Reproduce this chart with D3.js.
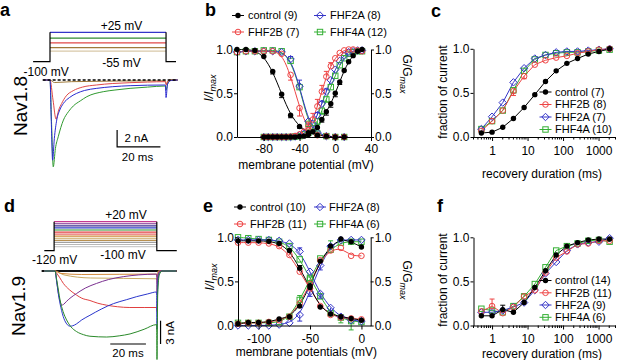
<!DOCTYPE html>
<html>
<head>
<meta charset="utf-8">
<script src="https://cdn.jsdelivr.net/npm/d3@7"></script>
<style>
  body { margin: 0; background: #fff; }
  svg { font-family: "Liberation Sans", Arial, Helvetica, sans-serif; }
</style>
</head>
<body>
<svg id="fig" width="617" height="360"></svg>
<script>
// ---------- data ----------
const groupNames = ['control', 'FHF2B', 'FHF2A', 'FHF4A'];

// panel b : Nav1.8 inactivation (10 mV) and activation (5 mV)
const bInactMV = [-110, -100, -90, -80, -70, -60, -50, -40, -30, -20, -10, 0, 10];
const bInactControl = [1.0, 1.0, 0.99, 0.92, 0.75, 0.49, 0.25, 0.12, 0.05, 0.02, 0.01, 0.0, 0.0];
const bInactFHF2B   = [0.97, 0.98, 0.98, 0.98, 0.98, 0.95, 0.71, 0.33, 0.08, 0.02, 0.01, 0.0, 0.0];
const bInactFHF2A   = [0.97, 0.98, 0.98, 0.98, 0.98, 0.97, 0.89, 0.58, 0.18, 0.05, 0.01, 0.0, 0.0];
const bInactFHF4A   = [0.97, 0.98, 0.98, 0.99, 0.99, 0.98, 0.87, 0.57, 0.15, 0.04, 0.01, 0.0, 0.0];
const bInactErrControl = [0, 0, 0, 0, -0.03, -0.04, -0.03, -0.02, 0, 0, 0, 0, 0];
const bInactErrFHF2B   = [0, 0, 0, 0, 0, 0, -0.06, -0.09, -0.04, 0, 0, 0, 0];
const bInactErrFHF2A   = [0, 0, 0, 0, 0, 0, 0.03, 0.07, 0, 0, 0, 0, 0];
const bInactErrFHF4A   = [0, 0, 0, 0, 0, 0, 0, 0, -0.03, 0, 0, 0, 0];

const bActMV = [-80, -75, -70, -65, -60, -55, -50, -45, -40, -35, -30, -25, -20, -15, -10, -5, 0, 5, 10, 15, 20, 25, 30];
const bActControl = [0, 0, 0, 0, 0, 0, 0, 0, 0.005, 0.01, 0.03, 0.06, 0.11, 0.2, 0.29, 0.38, 0.5, 0.63, 0.76, 0.86, 0.93, 0.98, 1.0];
const bActFHF2B   = [0, 0, 0, 0, 0, 0, 0.005, 0.01, 0.03, 0.06, 0.12, 0.2, 0.35, 0.52, 0.69, 0.81, 0.9, 0.96, 0.99, 1.0, 1.0, 0.99, 0.98];
const bActFHF2A   = [0, 0, 0, 0, 0, 0, 0, 0.005, 0.02, 0.04, 0.08, 0.15, 0.25, 0.38, 0.52, 0.65, 0.77, 0.87, 0.93, 0.97, 0.98, 0.99, 0.99];
const bActFHF4A   = [0, 0, 0, 0, 0, 0, 0, 0.005, 0.01, 0.03, 0.05, 0.1, 0.18, 0.3, 0.43, 0.57, 0.7, 0.82, 0.9, 0.95, 0.97, 0.98, 0.98];
const bActErrControl = [0, 0, 0, 0, 0, 0, 0, 0, 0, 0, 0, 0, 0, -0.03, -0.04, -0.04, -0.04, -0.03, 0, 0, 0, 0, 0];
const bActErrFHF2B   = [0, 0, 0, 0, 0, 0, 0, 0, 0, 0, 0.05, 0.07, 0.08, 0.07, 0.06, 0.04, 0, 0, 0, 0, 0, 0, 0];
const bActErrFHF2A   = [0, 0, 0, 0, 0, 0, 0, 0, 0, 0, 0, 0, 0.03, 0.03, 0.03, 0, 0, 0, 0, 0, 0, 0, 0];
const bActErrFHF4A   = [0, 0, 0, 0, 0, 0, 0, 0, 0, 0, 0, -0.03, -0.04, -0.04, -0.03, 0, 0, 0, 0, 0, 0, 0, 0];
const bCounts = [9, 7, 8, 12];

// panel e : Nav1.9 (10 mV steps)
const eMV = [-120, -110, -100, -90, -80, -70, -60, -50, -40, -30, -20, -10, 0];
const eInactControl = [0.96, 0.96, 0.96, 0.955, 0.93, 0.85, 0.65, 0.43, 0.21, 0.13, 0.10, 0.08, 0.06];
const eInactFHF2B   = [0.94, 0.94, 0.94, 0.93, 0.90, 0.80, 0.61, 0.42, 0.22, 0.12, 0.09, 0.08, 0.07];
const eInactFHF2A   = [0.97, 0.97, 0.97, 0.97, 0.96, 0.93, 0.84, 0.61, 0.36, 0.20, 0.10, 0.06, 0.05];
const eInactFHF4A   = [1.0, 0.99, 0.98, 0.97, 0.95, 0.90, 0.75, 0.54, 0.33, 0.14, 0.09, 0.05, 0.04];
const eInactErrControl = [0, 0, 0, 0, 0, 0, 0.03, 0.03, 0, 0, 0, 0, 0];
const eInactErrFHF2B   = [0, 0, 0, 0, 0, 0.03, 0.04, 0, 0, 0, 0, 0, 0];
const eInactErrFHF2A   = [0, 0, 0, 0, 0, 0, 0.04, 0, -0.05, -0.05, 0, 0, 0];
const eInactErrFHF4A   = [0, 0, 0, 0, 0, 0, 0, 0, 0, 0, -0.06, -0.1, 0];
const eActControl = [0.02, 0.035, 0.035, 0.04, 0.075, 0.10, 0.22, 0.45, 0.73, 0.90, 0.98, 0.95, 0.89];
const eActFHF2B   = [0.02, 0.03, 0.03, 0.04, 0.06, 0.10, 0.25, 0.47, 0.74, 0.85, 0.88, 0.79, 0.79];
const eActFHF2A   = [0.0, 0.0, 0.0, 0.0, 0.01, 0.03, 0.12, 0.38, 0.68, 0.90, 0.97, 0.97, 0.97];
const eActFHF4A   = [0.03, 0.03, 0.03, 0.03, 0.04, 0.10, 0.29, 0.52, 0.76, 0.86, 0.94, 0.95, 0.95];
const eActErrControl = [0, 0, 0, 0, 0, 0, 0, 0, 0, 0, 0, 0, 0];
const eActErrFHF2B   = [0, 0, 0, 0, 0, 0, 0, 0, 0, 0, 0, 0, 0];
const eActErrFHF2A   = [0, 0, 0, 0, 0, 0, -0.07, -0.05, -0.05, 0, 0, 0, 0];
const eActErrFHF4A   = [0, 0, 0, 0, 0, 0, 0.05, 0, 0, 0.1, 0, 0, 0];
const eCounts = [10, 11, 8, 6];

// panels c and f : recovery from inactivation
const recMs = [0.5, 1, 2, 4, 8, 16, 32, 64, 128, 256, 512, 1024, 2048];
const cControl = [0.045, 0.055, 0.11, 0.21, 0.335, 0.48, 0.63, 0.75, 0.835, 0.89, 0.94, 0.97, 1.0];
const cFHF2B   = [0.07, 0.18, 0.30, 0.52, 0.69, 0.82, 0.87, 0.90, 0.92, 0.95, 0.97, 0.99, 1.0];
const cFHF2A   = [0.09, 0.23, 0.39, 0.62, 0.78, 0.89, 0.93, 0.96, 0.97, 0.97, 0.98, 0.99, 1.0];
const cFHF4A   = [0.09, 0.18, 0.30, 0.53, 0.75, 0.88, 0.93, 0.95, 0.96, 0.96, 0.97, 0.98, 0.99];
const cErrFHF2B = [0, 0, 0, -0.05, -0.03, 0, 0, 0, 0, 0, 0, 0, 0];
const cCounts = [7, 8, 7, 10];
const fControl = [0.11, 0.11, 0.18, 0.15, 0.26, 0.43, 0.62, 0.80, 0.90, 0.94, 0.97, 0.98, 0.98];
const fFHF2B   = [0.16, 0.22, 0.14, 0.21, 0.33, 0.40, 0.60, 0.77, 0.84, 0.92, 0.93, 0.96, 0.96];
const fFHF2A   = [0.15, 0.15, 0.17, 0.21, 0.26, 0.40, 0.59, 0.72, 0.85, 0.92, 0.94, 0.95, 0.99];
const fFHF4A   = [0.19, 0.17, 0.15, 0.22, 0.33, 0.47, 0.66, 0.85, 0.90, 0.93, 0.96, 0.97, 0.95];
const fErrFHF2B = [0, 0.08, 0, 0, 0, 0, 0, 0, 0, 0, 0, 0, 0];
const fErrControl = [0, 0, 0.05, 0, 0, 0, 0, 0, 0, 0, 0, 0, 0];
const fErrFHF4A = [0, 0, 0, 0, 0.03, 0, 0, 0, 0, 0, 0, 0, 0];
const fCounts = [14, 11, 9, 6];

// panel a : Nav1.8 step protocol and currents [ms, nA]
const aStepMV = [25, 0, -20, -40, -55];
const aTraceRed = [[-3, 0], [0, 0], [1.4, -2.4], [2.8, -4.7], [4, -3.6], [5.4, -2.8], [7.5, -1.9], [10.7, -1.28], [15, -0.85], [21.4, -0.6], [29, -0.42], [36.9, -0.32], [45, -0.25], [53.3, -0.2], [53.7, -0.6], [54.5, -0.1], [56, 0], [59, 0]];
const aTraceBlue = [[-3, 0], [0, 0], [0.6, -5], [1.2, -9.6], [2, -7], [3.1, -4.8], [4.5, -3.6], [6.2, -2.8], [9, -2.1], [12.3, -1.6], [16, -1.25], [21.6, -1.0], [29, -0.8], [37, -0.68], [45, -0.62], [53.3, -0.6], [53.6, -2.1], [54.3, -0.5], [56, -0.05], [59, 0]];
const aTraceGreen = [[-3, 0], [0, 0], [0.7, -5], [1.5, -10.4], [2.5, -8.2], [3.8, -6.8], [6.2, -4.8], [8.5, -3.8], [10.8, -3.1], [14, -2.5], [17, -2.0], [24.6, -1.4], [30, -1.2], [37, -1.0], [45, -0.85], [53.3, -0.72], [53.6, -1.2], [54.5, -0.3], [56, 0], [59, 0]];
const aTraceBrown = [[-3, 0], [0, 0], [2, -0.3], [10, -0.2], [53.3, -0.1], [53.7, -0.5], [55, 0], [59, 0]];

// panel d : Nav1.9 step protocol and currents [ms, nA]
const dStepMV = [20, 10, 0, -10, -20, -30, -40, -50, -60, -70, -80, -90, -100];
const dTraceTan = [[-6, 0], [0, 0], [5, -0.5], [20, -0.9], [57, -1.0], [57.3, -1.3], [58, 0], [68, 0]];
const dTraceOrange = [[-6, 0], [0, 0], [3, -0.3], [15, -0.45], [57, -0.4], [57.3, -0.8], [58, 0], [68, 0]];
const dTraceRed = [[-6, 0], [0, 0], [1, -0.3], [2.5, -0.8], [4.7, -1.6], [8, -2.4], [12.1, -3.1], [15, -3.5], [19.6, -3.8], [24, -4.15], [29, -4.4], [35, -4.6], [42, -4.7], [50, -4.7], [57, -4.7], [57.2, -5.2], [57.6, -1], [59, 0], [68, 0]];
const dTracePurple = [[-6, 0], [0, 0], [1, -1.4], [1.9, -2.9], [3, -4], [3.7, -4.4], [4.8, -4.3], [6.5, -3.9], [9, -3.4], [12.1, -2.9], [17, -2.2], [23.3, -1.6], [30, -1.1], [38.3, -0.73], [47, -0.5], [57, -0.4], [57.2, -3], [57.6, -0.6], [59, 0], [68, 0]];
const dTraceBlue = [[-6, 0], [0, 0], [1, -1.5], [2.2, -3.4], [3.7, -5.1], [5.5, -6.4], [8.4, -7.1], [10, -7.05], [12.1, -6.8], [15, -6.3], [19.6, -5.7], [26, -4.9], [32.8, -4.2], [40, -3.7], [45.8, -3.3], [52, -2.95], [57, -2.7], [57.2, -7.5], [57.6, -2], [58.5, -0.3], [60, 0], [68, 0]];
const dTraceGreen = [[-6, 0], [0, 0], [1, -1.2], [2, -2.6], [2.8, -3.7], [4.5, -5.2], [6.5, -6.3], [9, -7.2], [12.1, -7.8], [16, -8.2], [19.6, -8.4], [29, -8.5], [36, -8.35], [42.1, -8.1], [50, -7.5], [57, -6.9], [57.2, -11.4], [57.6, -3], [58.5, -0.5], [60, 0], [68, 0]];

// ---------- styles ----------
const groupColors = ['#000000', '#ee4444', '#3434c8', '#34b034'];
const groupMarkers = ['dot', 'circle', 'diamond', 'square'];
const aStepColors = ['#3434c8', '#2f8a2f', '#e04848', '#a07a3a', '#d8c8a8'];
const dStepColors = ['#c23a90', '#7a2f90', '#3a2f90', '#3040c8', '#2a902a', '#e04040', '#e86a6a', '#d0883a', '#c8a860', '#b89050', '#a0a0a0', '#b8b8b8', '#cccccc'];
const FS_TICK = 12, FS_TITLE = 12, FS_LEG = 11;

const svg = d3.select('#fig');

function drawMarker(g, kind, x, y, color) {
  if (kind === 'dot') {
    g.append('circle').attr('cx', x).attr('cy', y).attr('r', 2.7).attr('fill', color);
  } else if (kind === 'circle') {
    g.append('circle').attr('cx', x).attr('cy', y).attr('r', 2.8)
      .attr('fill', 'none').attr('stroke', color).attr('stroke-width', 1);
  } else if (kind === 'diamond') {
    g.append('path').attr('d', `M${x},${y - 3.7}L${x + 3.7},${y}L${x},${y + 3.7}L${x - 3.7},${y}Z`)
      .attr('fill', 'none').attr('stroke', color).attr('stroke-width', 1);
  } else {
    g.append('rect').attr('x', x - 2.7).attr('y', y - 2.7).attr('width', 5.4).attr('height', 5.4)
      .attr('fill', 'none').attr('stroke', color).attr('stroke-width', 1);
  }
}

function styleAxis(sel) {
  sel.attr('font-family', null).attr('font-size', null);
  sel.selectAll('text').attr('font-size', FS_TICK).attr('fill', '#000');
  sel.selectAll('path,line').attr('stroke', '#000').attr('stroke-width', 1);
}

function panelLetter(txt, x, y) {
  svg.append('text').attr('x', x).attr('y', y).attr('font-size', 18)
    .attr('font-weight', 'bold').text(txt);
}

function plainText(txt, x, y, size, anchor) {
  return svg.append('text').attr('x', x).attr('y', y).attr('font-size', size)
    .attr('text-anchor', anchor || 'start').text(txt);
}

function errBar(g, x, yA, yB, color) {
  g.append('line').attr('x1', x).attr('x2', x).attr('y1', yA).attr('y2', yB)
    .attr('stroke', color).attr('stroke-width', 1);
  g.append('line').attr('x1', x - 2.5).attr('x2', x + 2.5).attr('y1', yB).attr('y2', yB)
    .attr('stroke', color).attr('stroke-width', 1);
}

function legendItem(x, y, textX, i, label) {
  const g = svg.append('g');
  g.append('line').attr('x1', x - 6).attr('x2', x + 6).attr('y1', y).attr('y2', y)
    .attr('stroke', groupColors[i]).attr('stroke-width', 1);
  drawMarker(g, groupMarkers[i], x, y, groupColors[i]);
  g.append('text').attr('x', textX).attr('y', y).attr('dy', '0.36em')
    .attr('font-size', FS_LEG).text(label);
}

// ---------- Boltzmann-type panels (b, e) ----------
function drawGV(opt) {
  const x = d3.scaleLinear().domain(opt.xDomain).range(opt.xRange);
  const y = d3.scaleLinear().domain([0, 1]).range(opt.yRange);
  const g = svg.append('g');

  const fit = d3.line().x(d => x(d[0])).y(d => y(d[1])).curve(d3.curveBasis);
  const order = [3, 2, 1, 0];
  order.forEach(i => {
    opt.sets.forEach(s => {
      const pts = s.mv.map((v, k) => [v, s.vals[i][k]]);
      g.append('path').attr('d', fit(pts)).attr('fill', 'none')
        .attr('stroke', groupColors[i]).attr('stroke-width', 1);
    });
  });
  order.forEach(i => {
    opt.sets.forEach(s => {
      s.mv.forEach((v, k) => {
        const e = s.errs[i][k];
        if (e) errBar(g, x(v), y(s.vals[i][k]), y(s.vals[i][k] + e), groupColors[i]);
      });
      s.mv.forEach((v, k) => drawMarker(g, groupMarkers[i], x(v), y(s.vals[i][k]), groupColors[i]));
    });
  });

  const yTicks = [0, 0.5, 1];
  const gl = svg.append('g').attr('transform', `translate(${opt.xRange[0]},0)`)
    .call(d3.axisLeft(y).tickValues(yTicks).tickFormat(d3.format('.1f')).tickSize(3).tickSizeOuter(0).tickPadding(1));
  styleAxis(gl);
  const gr = svg.append('g').attr('transform', `translate(${opt.xRange[1]},0)`)
    .call(d3.axisRight(y).tickValues(yTicks).tickFormat(d3.format('.1f')).tickSize(3).tickSizeOuter(0).tickPadding(1));
  styleAxis(gr);
  const gb = svg.append('g').attr('transform', `translate(0,${opt.yRange[0]})`)
    .call(d3.axisBottom(x).tickValues(opt.xTicks).tickFormat(d => String(d)).tickSize(4).tickSizeOuter(0).tickPadding(opt.tickPad));
  styleAxis(gb);

  const midX = (opt.xRange[0] + opt.xRange[1]) / 2;
  plainText(opt.xTitle, midX + 2, opt.titleY, FS_TITLE, 'middle');

  const yl = svg.append('text').attr('font-size', FS_TITLE)
    .attr('transform', `translate(${opt.xRange[0] - 24},${opt.leftTitleY}) rotate(-90)`)
    .attr('text-anchor', 'middle');
  yl.append('tspan').attr('font-style', 'italic').text('I/I');
  yl.append('tspan').attr('font-style', 'italic').attr('font-size', 9).attr('dy', 3).text('max');

  const yr = svg.append('text').attr('font-size', FS_TITLE)
    .attr('transform', `translate(${opt.xRange[1] + 32},${opt.rightTitleY}) rotate(90)`)
    .attr('text-anchor', 'middle');
  yr.append('tspan').text('G/G');
  yr.append('tspan').attr('font-style', 'italic').attr('font-size', 9).attr('dy', 3).text('max');
}

drawGV({
  xDomain: [-110, 40], xRange: [237, 371], yRange: [137, 49.5],
  xTicks: [-80, -40, 0, 40], tickPad: 3,
  xTitle: 'membrane potential (mV)', titleY: 169,
  leftTitleY: 88, rightTitleY: 74,
  sets: [
    { mv: bInactMV, vals: [bInactControl, bInactFHF2B, bInactFHF2A, bInactFHF4A],
      errs: [bInactErrControl, bInactErrFHF2B, bInactErrFHF2A, bInactErrFHF4A] },
    { mv: bActMV, vals: [bActControl, bActFHF2B, bActFHF2A, bActFHF4A],
      errs: [bActErrControl, bActErrFHF2B, bActErrFHF2A, bActErrFHF4A] }
  ]
});
legendItem(238, 15.5, 248, 0, `${groupNames[0]} (${bCounts[0]})`);
legendItem(238, 32, 248, 1, `${groupNames[1]} (${bCounts[1]})`);
legendItem(320, 15.5, 330, 2, `${groupNames[2]} (${bCounts[2]})`);
legendItem(320, 32, 330, 3, `${groupNames[3]} (${bCounts[3]})`);

drawGV({
  xDomain: [-120, 9], xRange: [238, 370.7], yRange: [325.5, 237.3],
  xTicks: [-100, -50, 0], tickPad: 5,
  xTitle: 'membrane potentials (mV)', titleY: 356,
  leftTitleY: 277, rightTitleY: 280,
  sets: [
    { mv: eMV, vals: [eInactControl, eInactFHF2B, eInactFHF2A, eInactFHF4A],
      errs: [eInactErrControl, eInactErrFHF2B, eInactErrFHF2A, eInactErrFHF4A] },
    { mv: eMV, vals: [eActControl, eActFHF2B, eActFHF2A, eActFHF4A],
      errs: [eActErrControl, eActErrFHF2B, eActErrFHF2A, eActErrFHF4A] }
  ]
});
legendItem(240, 207, 250, 0, `${groupNames[0]} (${eCounts[0]})`);
legendItem(240, 224, 250, 1, `${groupNames[1]} (${eCounts[1]})`);
legendItem(320, 207, 329, 2, `${groupNames[2]} (${eCounts[2]})`);
legendItem(320, 224, 329, 3, `${groupNames[3]} (${eCounts[3]})`);

// ---------- recovery panels (c, f) ----------
function drawRecovery(opt) {
  const x = d3.scaleLog().domain([0.3, 3000]).range([473.5, 615.5]);
  const y = d3.scaleLinear().domain([0, 1]).range(opt.yRange);
  const g = svg.append('g');
  const line = d3.line().x(d => x(d[0])).y(d => y(d[1]));
  const order = [3, 2, 1, 0];
  order.forEach(i => {
    const pts = recMs.map((t, k) => [t, opt.vals[i][k]]);
    g.append('path').attr('d', line(pts)).attr('fill', 'none')
      .attr('stroke', groupColors[i]).attr('stroke-width', 1);
  });
  order.forEach(i => {
    const errs = opt.errs[i];
    recMs.forEach((t, k) => {
      if (errs && errs[k]) errBar(g, x(t), y(opt.vals[i][k]), y(opt.vals[i][k] + errs[k]), groupColors[i]);
    });
    recMs.forEach((t, k) => drawMarker(g, groupMarkers[i], x(t), y(opt.vals[i][k]), groupColors[i]));
  });

  const gl = svg.append('g').attr('transform', 'translate(473.5,0)')
    .call(d3.axisLeft(y).tickValues([0, 0.5, 1]).tickFormat(d3.format('.1f')).tickSize(3).tickSizeOuter(0).tickPadding(1));
  styleAxis(gl);
  const gb = svg.append('g').attr('transform', `translate(0,${opt.yRange[0]})`)
    .call(d3.axisBottom(x).tickValues([1, 10, 100, 1000]).tickFormat(d => String(d)).tickSize(4).tickSizeOuter(0).tickPadding(5));
  styleAxis(gb);
  const minor = [];
  [0.1, 1, 10, 100, 1000].forEach(dec => {
    for (let m = 2; m <= 9; m++) {
      const v = dec * m;
      if (v >= 0.3 && v <= 3000) minor.push(v);
    }
  });
  gb.selectAll('line.minor').data(minor).enter().append('line')
    .attr('x1', d => x(d)).attr('x2', d => x(d)).attr('y1', 0).attr('y2', 2.5)
    .attr('stroke', '#000').attr('stroke-width', 1);

  plainText('recovery duration (ms)', 542, opt.titleY, FS_TITLE, 'middle');
  svg.append('text').attr('font-size', FS_TITLE).attr('text-anchor', 'middle')
    .attr('transform', `translate(447,${opt.yTitleY}) rotate(-90)`).text('fraction of current');

  opt.legendY.forEach((ly, i) => legendItem(545.5, ly, 555, i, `${groupNames[i]} (${opt.counts[i]})`));
}

drawRecovery({
  yRange: [137, 48.8], titleY: 178, yTitleY: 92,
  vals: [cControl, cFHF2B, cFHF2A, cFHF4A], errs: [null, cErrFHF2B, null, null],
  legendY: [92, 104.5, 117, 129.5], counts: cCounts
});
drawRecovery({
  yRange: [325.5, 237.3], titleY: 358, yTitleY: 280,
  vals: [fControl, fFHF2B, fFHF2A, fFHF4A], errs: [fErrControl, fErrFHF2B, null, fErrFHF4A],
  legendY: [280.5, 292.8, 305, 317.3], counts: fCounts
});

// ---------- current traces (a, d) ----------
function drawSteps(steps, colors, tScale, vScale, tOn, tOff, tLeft, tRight, hold) {
  const g = svg.append('g');
  steps.forEach((v, i) => {
    g.append('line').attr('x1', tScale(tOn)).attr('x2', tScale(tOff))
      .attr('y1', vScale(v)).attr('y2', vScale(v))
      .attr('stroke', colors[i]).attr('stroke-width', 1.2);
  });
  const top = d3.max(steps);
  const p = d3.path();
  p.moveTo(tScale(tLeft), vScale(hold));
  p.lineTo(tScale(tOn), vScale(hold));
  p.lineTo(tScale(tOn), vScale(top));
  p.moveTo(tScale(tOff), vScale(top));
  p.lineTo(tScale(tOff), vScale(hold));
  p.lineTo(tScale(tRight), vScale(hold));
  g.append('path').attr('d', p.toString()).attr('fill', 'none').attr('stroke', '#000').attr('stroke-width', 1.2);
}

function drawTraces(traces, colors, tScale, iScale) {
  const line = d3.line().x(d => tScale(d[0])).y(d => iScale(d[1])).curve(d3.curveMonotoneX);
  traces.forEach((tr, i) => {
    svg.append('path').attr('d', line(tr)).attr('fill', 'none')
      .attr('stroke', colors[i]).attr('stroke-width', 1);
  });
}

// panel a
const taScale = d3.scaleLinear().domain([0, 20]).range([50, 93.3]);
const iaScale = d3.scaleLinear().domain([0, -2]).range([80, 96.7]);
const vaScale = d3.scaleLinear().domain([-100, 25]).range([61.7, 32.3]);
drawSteps(aStepMV, aStepColors, taScale, vaScale, 0, 53.6, -7.8, 58.2, -100);
drawTraces([aTraceBrown, aTraceGreen, aTraceRed, aTraceBlue], ['#a07a3a', '#2f9a2f', '#e04848', '#2a2ad0'], taScale, iaScale);
svg.append('line').attr('x1', taScale(-3.4)).attr('x2', taScale(58.5))
  .attr('y1', iaScale(0)).attr('y2', iaScale(0))
  .attr('stroke', '#000').attr('stroke-width', 1.3).attr('stroke-dasharray', '3,2');
// scale bar 2 nA / 20 ms
svg.append('path').attr('d', `M${taScale(31)},${iaScale(-6)}V${iaScale(-8)}H${taScale(51)}`)
  .attr('fill', 'none').attr('stroke', '#000').attr('stroke-width', 1.2);
plainText('2 nA', 124.5, 142, 11.5);
plainText('20 ms', 137.5, 160.5, 11.5, 'middle');
plainText('+25 mV', 121.5, 29.5, 12, 'middle');
plainText('-55 mV', 121.5, 67, 12, 'middle');
plainText('-100 mV', 23.5, 75.5, 12);
svg.append('text').attr('font-size', 19).attr('text-anchor', 'middle')
  .attr('transform', 'translate(26.5,106) rotate(-90)').text('Nav1.8');

// panel d
const tdScale = d3.scaleLinear().domain([0, 20]).range([55, 90.66]);
const idScale = d3.scaleLinear().domain([0, -3]).range([271, 294.3]);
const vdScale = d3.scaleLinear().domain([-120, 20]).range([250.7, 221.7]);
drawSteps(dStepMV, dStepColors, tdScale, vdScale, -0.5, 57.1, -6, 68.3, -120);
svg.append('line').attr('x1', tdScale(-7.5)).attr('x2', tdScale(68.3))
  .attr('y1', idScale(0)).attr('y2', idScale(0))
  .attr('stroke', '#111').attr('stroke-width', 1.8);
drawTraces([dTraceTan, dTraceOrange, dTraceRed, dTracePurple, dTraceBlue, dTraceGreen],
  ['#c8a860', '#d0883a', '#e04040', '#7a2f90', '#2a36cc', '#2a8a2a'], tdScale, idScale);
// scale bars 3 nA / 20 ms
svg.append('line').attr('x1', tdScale(31)).attr('x2', tdScale(51))
  .attr('y1', idScale(-9.4)).attr('y2', idScale(-9.4)).attr('stroke', '#000').attr('stroke-width', 1.2);
svg.append('line').attr('x1', tdScale(59.2)).attr('x2', tdScale(59.2))
  .attr('y1', idScale(-6.4)).attr('y2', idScale(-9.4)).attr('stroke', '#000').attr('stroke-width', 1.2);
plainText('20 ms', 128, 356.5, 11.5, 'middle');
svg.append('text').attr('font-size', 11.5).attr('text-anchor', 'middle')
  .attr('transform', 'translate(173.5,333) rotate(-90)').text('3 nA');
plainText('+20 mV', 126, 218.5, 12, 'middle');
plainText('-100 mV', 123, 258.5, 12, 'middle');
plainText('-120 mV', 32, 263.5, 12);
svg.append('text').attr('font-size', 19).attr('text-anchor', 'middle')
  .attr('transform', 'translate(25,306) rotate(-90)').text('Nav1.9');

// panel letters
panelLetter('a', 0, 16);
panelLetter('b', 205, 16);
panelLetter('c', 431, 17);
panelLetter('d', 4, 212);
panelLetter('e', 203, 212);
panelLetter('f', 437, 212);
</script>
</body>
</html>
